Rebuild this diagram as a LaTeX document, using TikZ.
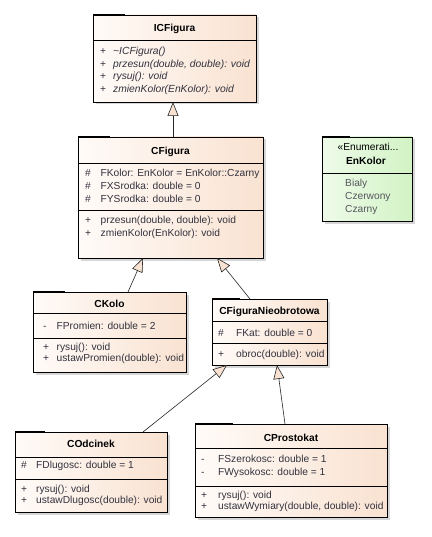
\documentclass[tikz,border=0pt]{standalone}
\usepackage{fontspec}
\setmainfont{Liberation Sans}
\usetikzlibrary{arrows.meta,shadows,calc}
\definecolor{peach}{RGB}{249,226,209}
\definecolor{peachl}{RGB}{255,251,248}
\definecolor{mint}{RGB}{210,243,197}
\definecolor{mintl}{RGB}{238,251,233}
\definecolor{txt}{RGB}{50,50,62}
\definecolor{etxt}{RGB}{85,85,95}
\begin{document}
\begin{tikzpicture}[x=1pt,y=-1pt,
  cls/.style={draw=black, line width=0.8pt, inner sep=0pt, outer sep=0pt, anchor=north west,
    left color=peachl, right color=peach,
    drop shadow={shadow xshift=2.5pt, shadow yshift=-2.5pt, fill=black, opacity=0.16}},
  enumcls/.style={cls, left color=mintl, right color=mint},
  sepline/.style={draw=black, line width=0.8pt},
  cornermark/.style={draw=black, line width=1.5pt},
  ttl/.style={anchor=base, inner sep=0pt, font=\fontsize{10.2}{12}\selectfont\bfseries},
  mtext/.style={anchor=base west, inner sep=0pt, text=txt, font=\fontsize{10.2}{12}\selectfont},
  itext/.style={mtext, font=\fontsize{10.3}{12}\selectfont\itshape},
  etext/.style={mtext, text=etxt},
  inh/.style={-{Triangle[length=14pt,width=11pt,fill=peach]}, draw=black!85, line width=0.6pt}
]
\fill[white] (0,0) rectangle (431,537);
\useasboundingbox (0,0) rectangle (431,537);

% ---------------- ICFigura
\node[cls, minimum width=163pt, minimum height=87pt] (icf) at (93,15) {};
\draw[cornermark] (93,15) -- (125,15);
\draw[sepline] (93,40) -- (256,40);
\node[ttl] (icft) at (174.5,31.9) {ICFigura};
\node[mtext] (icfm1) at (100,54.4) {+};
\node[itext] (icfa1) at (113,54.4) {\textasciitilde ICFigura()};
\node[mtext] (icfm2) at (100,67.1) {+};
\node[itext] (icfa2) at (113,67.1) {przesun(double, double): void};
\node[mtext] (icfm3) at (100,79.8) {+};
\node[itext] (icfa3) at (113,79.8) {rysuj(): void};
\node[mtext] (icfm4) at (100,92.5) {+};
\node[itext] (icfa4) at (113,92.5) {zmienKolor(EnKolor): void};

% ---------------- CFigura
\node[cls, minimum width=185pt, minimum height=121pt] (cfig) at (78,137) {};
\draw[cornermark] (78,137) -- (110,137);
\draw[sepline] (78,163.5) -- (263,163.5);
\draw[sepline] (78,210) -- (263,210);
\node[ttl] (cfigt) at (170.5,154.6) {CFigura};
\node[mtext] (cfm1) at (85,176.6) {\#};
\node[mtext] (cfa1) at (100.5,176.6) {FKolor: EnKolor = EnKolor::Czarny};
\node[mtext] (cfm2) at (85,189.6) {\#};
\node[mtext] (cfa2) at (100.5,189.6) {FXSrodka: double = 0};
\node[mtext] (cfm3) at (85,202.6) {\#};
\node[mtext] (cfa3) at (100.5,202.6) {FYSrodka: double = 0};
\node[mtext] (cfm4) at (85,223.9) {+};
\node[mtext] (cfa4) at (100.5,223.9) {przesun(double, double): void};
\node[mtext] (cfm5) at (85,236.9) {+};
\node[mtext] (cfa5) at (100.5,236.9) {zmienKolor(EnKolor): void};

% ---------------- EnKolor
\node[enumcls, minimum width=90pt, minimum height=84pt] (enk) at (322,137) {};
\draw[cornermark] (322,137) -- (350,137);
\draw[sepline] (322,173.5) -- (412,173.5);
\node[anchor=base, inner sep=0pt, font=\fontsize{10.2}{12}\selectfont] (enks) at (368,150.6) {«Enumerati...};
\node[ttl] (enkt) at (366,164.6) {EnKolor};
\node[etext] (enk1) at (345,186.2) {Bialy};
\node[etext] (enk2) at (345,199.2) {Czerwony};
\node[etext] (enk3) at (345,212.4) {Czarny};

% ---------------- CKolo
\node[cls, minimum width=153pt, minimum height=80pt] (ckolo) at (33,292) {};
\draw[cornermark] (33,292) -- (65,292);
\draw[sepline] (33,313.5) -- (186,313.5);
\draw[sepline] (33,338.5) -- (186,338.5);
\node[ttl] (ckolot) at (109.5,307.2) {CKolo};
\node[mtext] (ckm1) at (43,329.9) {-};
\node[mtext] (cka1) at (56.5,329.9) {FPromien: double = 2};
\node[mtext] (ckm2) at (43,350.6) {+};
\node[mtext] (cka2) at (56.5,350.6) {rysuj(): void};
\node[mtext] (ckm3) at (43,361.6) {+};
\node[mtext] (cka3) at (56.5,361.6) {ustawPromien(double): void};

% ---------------- CFiguraNieobrotowa
\node[cls, minimum width=115pt, minimum height=66pt] (cfn) at (212,299) {};
\draw[cornermark] (212,299) -- (240,299);
\draw[sepline] (212,321.7) -- (327,321.7);
\draw[sepline] (212,343.3) -- (327,343.3);
\node[ttl] (cfnt) at (269.5,314.6) {CFiguraNieobrotowa};
\node[mtext] (cnm1) at (218,336.6) {\#};
\node[mtext] (cna1) at (236,336.6) {FKat: double = 0};
\node[mtext] (cnm2) at (218,357.2) {+};
\node[mtext] (cna2) at (236,357.2) {obroc(double): void};

% ---------------- COdcinek
\node[cls, minimum width=152pt, minimum height=80pt] (codc) at (15,432) {};
\draw[cornermark] (15,432) -- (45,432);
\draw[sepline] (15,457) -- (167,457);
\draw[sepline] (15,479.5) -- (167,479.5);
\node[ttl] (codct) at (91,447.9) {COdcinek};
\node[mtext] (com1) at (21,468.9) {\#};
\node[mtext] (coa1) at (36,468.9) {FDlugosc: double = 1};
\node[mtext] (com2) at (21,492.2) {+};
\node[mtext] (coa2) at (36,492.2) {rysuj(): void};
\node[mtext] (com3) at (21,503.9) {+};
\node[mtext] (coa3) at (36,503.9) {ustawDlugosc(double): void};

% ---------------- CProstokat
\node[cls, minimum width=192pt, minimum height=93pt] (cpro) at (195,424) {};
\draw[cornermark] (195,424) -- (233,424);
\draw[sepline] (195,448.5) -- (387,448.5);
\draw[sepline] (195,486.5) -- (387,486.5);
\node[ttl] (cprot) at (291,441.6) {CProstokat};
\node[mtext] (cpm1) at (201,462.2) {-};
\node[mtext] (cpa1) at (218,462.2) {FSzerokosc: double = 1};
\node[mtext] (cpm2) at (201,475.6) {-};
\node[mtext] (cpa2) at (218,475.6) {FWysokosc: double = 1};
\node[mtext] (cpm3) at (201,498.2) {+};
\node[mtext] (cpa3) at (218,498.2) {rysuj(): void};
\node[mtext] (cpm4) at (201,509.6) {+};
\node[mtext] (cpa4) at (218,509.6) {ustawWymiary(double, double): void};

% ---------------- generalisations
\draw[inh] ($(cfig.north west)+(95,0)$) -- ($(icf.south west)+(80,0)$);
\draw[inh] ($(ckolo.north west)+(95,0)$) -- ($(cfig.south west)+(65,0)$);
\draw[inh] ($(cfn.north west)+(38,0)$) -- ($(cfig.south west)+(139,0)$);
\draw[inh] ($(codc.north west)+(128,0)$) -- ($(cfn.south west)+(15,0)$);
\draw[inh] ($(cpro.north west)+(90,0)$) -- ($(cfn.south west)+(65,0)$);
\end{tikzpicture}
\end{document}
